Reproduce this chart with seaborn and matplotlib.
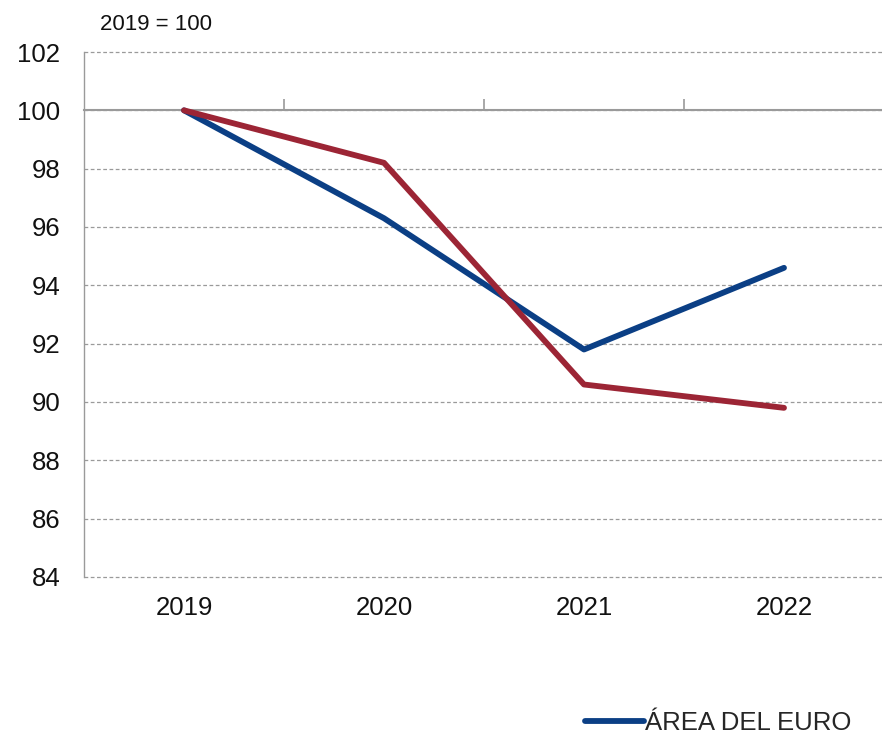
import numpy as np
import pandas as pd
import matplotlib
matplotlib.use("Agg")
import matplotlib.pyplot as plt
import seaborn as sns

# ============================================================
# DATA
# ============================================================

years = ["2019", "2020", "2021", "2022"]
euro_area = [100.0, 96.3, 91.8, 94.6]
spain = [100.0, 98.2, 90.6, 89.8]
series_names = ["ÁREA DEL EURO", "ESPAÑA"]
y_ticks = [84, 86, 88, 90, 92, 94, 96, 98, 100, 102]

df = pd.DataFrame({
    "pos": list(range(len(years))) * 2,
    "valor": euro_area + spain,
    "serie": [series_names[0]] * len(years) + [series_names[1]] * len(years),
})

# ============================================================
# STYLE
# ============================================================

sns.set_style("white")
plt.rcParams["font.family"] = ["Liberation Sans", "DejaVu Sans"]

palette = {series_names[0]: "#0b3f85", series_names[1]: "#9c2535"}
grey = "#9a9a9a"

# ============================================================
# PLOT
# ============================================================

fig = plt.figure(figsize=(8.82, 7.37), dpi=100)
ax = fig.add_axes([84 / 882, 1 - 577 / 737, 800 / 882, 525 / 737])

sns.lineplot(
    data=df, x="pos", y="valor", hue="serie", palette=palette,
    linewidth=4.2, ax=ax, legend=False, zorder=3
)

ax.set_xlim(-0.5, 3.5)
ax.set_ylim(84, 102)
ax.set_yticks(y_ticks)
ax.set_xticks(range(len(years)))
ax.set_xticklabels(years)
ax.set_xlabel("")
ax.set_ylabel("")
ax.tick_params(axis="both", length=0, labelsize=18.5, colors="#111111")
ax.tick_params(axis="x", pad=14)
ax.tick_params(axis="y", pad=17)

ax.grid(axis="y", color=grey, linestyle=(0, (3, 2)), linewidth=0.9)
ax.grid(axis="x", visible=False)
for line in ax.get_ygridlines():
    line.set_clip_on(False)
for side in ["top", "right", "bottom"]:
    ax.spines[side].set_visible(False)
ax.spines["left"].set_color(grey)
ax.spines["left"].set_linewidth(1.0)

# baseline at 100 with category separator ticks
sec = ax.secondary_xaxis((100 - 84) / (102 - 84))
sec.set_xticks([0.5, 1.5, 2.5])
sec.set_xticklabels([])
sec.spines["top"].set_color(grey)
sec.spines["top"].set_linewidth(1.5)
sec.spines["bottom"].set_color(grey)
sec.spines["bottom"].set_linewidth(1.5)
sec.tick_params(length=8, width=1.2, color=grey, direction="out")

fig.text(100 / 882, 1 - 24 / 737, "2019 = 100", fontsize=16, color="#111111", va="center")

# ============================================================
# LEGEND (only the first entry is visible in the reference)
# ============================================================

handles = [plt.Line2D([], [], color=palette[series_names[0]], linewidth=4.2)]
fig.legend(
    handles, series_names[:1], loc="upper left",
    bbox_to_anchor=(585 / 882, 1 - 711 / 737), frameon=False,
    fontsize=18.5, handlelength=2.3, handletextpad=0.05,
    borderaxespad=0, borderpad=0
)

fig.savefig("out.png", dpi=100)
